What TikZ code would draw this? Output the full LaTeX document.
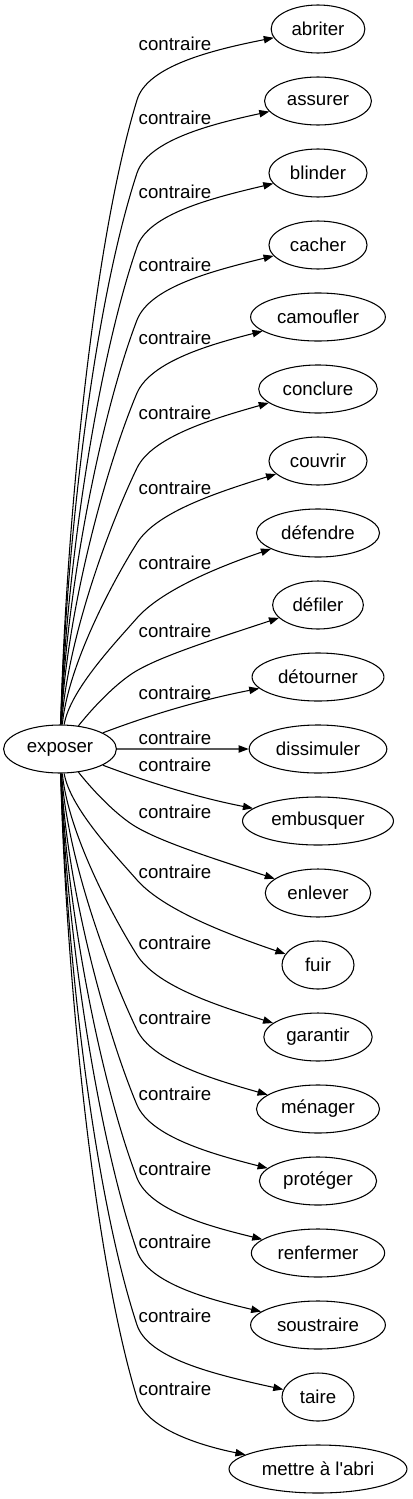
\documentclass[tikz,border=0pt]{standalone}
\usepackage{fontspec}
\newfontfamily\fuente{Liberation Sans}
\usetikzlibrary{arrows.meta,positioning,shapes.geometric}

\begin{document}
\begin{tikzpicture}[
  x=0.75pt, y=-0.75pt,
  every node/.style={font=\fuente\fontsize{14pt}{16pt}\selectfont},
  palabra/.style={
    ellipse, draw=black, line width=0.8pt,
    inner xsep=5pt, minimum width=54pt, minimum height=36pt},
  etiq/.style={inner sep=0pt},
  ->, >={Triangle[length=7.5pt,width=5.5pt]}, line width=0.8pt,
  node distance=17.2pt
]
  \useasboundingbox (0,0) rectangle (413,1499);

  %% ── Nodos ─────────────────────────────────────────────────
  \node[palabra] (exposer) at (60,749) {exposer};

  \node[palabra] (abriter) at (318,29) {abriter};
  \node[palabra, below=of abriter] (assurer) {assurer};
  \node[palabra, below=of assurer] (blinder) {blinder};
  \node[palabra, below=of blinder] (cacher) {cacher};
  \node[palabra, below=of cacher] (camoufler) {camoufler};
  \node[palabra, below=of camoufler] (conclure) {conclure};
  \node[palabra, below=of conclure] (couvrir) {couvrir};
  \node[palabra, below=of couvrir] (defendre) {défendre};
  \node[palabra, below=of defendre] (defiler) {défiler};
  \node[palabra, below=of defiler] (detourner) {détourner};
  \node[palabra, below=of detourner] (dissimuler) {dissimuler};
  \node[palabra, below=of dissimuler] (embusquer) {embusquer};
  \node[palabra, below=of embusquer] (enlever) {enlever};
  \node[palabra, below=of enlever] (fuir) {fuir};
  \node[palabra, below=of fuir] (garantir) {garantir};
  \node[palabra, below=of garantir] (menager) {ménager};
  \node[palabra, below=of menager] (proteger) {protéger};
  \node[palabra, below=of proteger] (renfermer) {renfermer};
  \node[palabra, below=of renfermer] (soustraire) {soustraire};
  \node[palabra, below=of soustraire] (taire) {taire};
  \node[palabra, below=of taire] (abri) {mettre à l'abri};

  %% ── Aristas hacia arriba ──────────────────────────────────
  \draw (exposer) .. controls (66,525) and (93,244) .. (137,100)
    .. controls (147,66) and (212,50) .. (abriter);
  \draw (exposer) .. controls (66,543) and (94,304) .. (137,173)
    .. controls (148,140) and (212,124) .. (assurer);
  \draw (exposer) .. controls (66,567) and (98,360) .. (137,247)
    .. controls (148,214) and (212,198) .. (blinder);
  \draw (exposer) .. controls (66,591) and (101,414) .. (137,320)
    .. controls (150,287) and (212,271) .. (cacher);
  \draw (exposer) .. controls (66,615) and (105,469) .. (137,393)
    .. controls (151,361) and (212,344) .. (camoufler);
  \draw (exposer) .. controls (67,640) and (109,526) .. (137,468)
    .. controls (152,437) and (212,419) .. (conclure);
  \draw (exposer) .. controls (68,665) and (113,581) .. (137,543)
    .. controls (156,513) and (212,494) .. (couvrir);
  \draw (exposer) .. controls (70,690) and (116,642) .. (137,618)
    .. controls (160,592) and (212,569) .. (defendre);
  \draw (exposer) .. controls (95,705) and (116,684) .. (133,673)
    .. controls (158,657) and (212,640) .. (defiler);
  \draw (exposer) .. controls (150,715) and (200,700) .. (detourner);

  %% ── Arista recta ──────────────────────────────────────────
  \draw (exposer) -- (dissimuler);

  %% ── Aristas hacia abajo ───────────────────────────────────
  \draw (exposer) .. controls (150,783) and (200,798) .. (embusquer);
  \draw (exposer) .. controls (95,793) and (116,814) .. (133,825)
    .. controls (158,841) and (212,858) .. (enlever);
  \draw (exposer) .. controls (70,808) and (116,856) .. (137,880)
    .. controls (160,906) and (212,929) .. (fuir);
  \draw (exposer) .. controls (68,833) and (113,917) .. (137,955)
    .. controls (156,985) and (212,1004) .. (garantir);
  \draw (exposer) .. controls (67,858) and (109,972) .. (137,1030)
    .. controls (152,1061) and (212,1079) .. (menager);
  \draw (exposer) .. controls (66,883) and (105,1029) .. (137,1105)
    .. controls (151,1137) and (212,1154) .. (proteger);
  \draw (exposer) .. controls (66,907) and (101,1084) .. (137,1178)
    .. controls (150,1211) and (212,1227) .. (renfermer);
  \draw (exposer) .. controls (66,931) and (98,1138) .. (137,1251)
    .. controls (148,1284) and (212,1300) .. (soustraire);
  \draw (exposer) .. controls (66,955) and (94,1194) .. (137,1325)
    .. controls (148,1358) and (212,1374) .. (taire);
  \draw (exposer) .. controls (66,973) and (93,1254) .. (137,1398)
    .. controls (147,1432) and (212,1448) .. (abri);

  %% ── Etiquetas ─────────────────────────────────────────────
  \node[etiq] (l1) at (175,44) {contraire};
  \node[etiq] (l2) at (175,118) {contraire};
  \node[etiq] (l3) at (175,192) {contraire};
  \node[etiq] (l4) at (175,265) {contraire};
  \node[etiq] (l5) at (175,338) {contraire};
  \node[etiq] (l6) at (175,413) {contraire};
  \node[etiq] (l7) at (175,488) {contraire};
  \node[etiq] (l8) at (175,563) {contraire};
  \node[etiq] (l9) at (175,631) {contraire};
  \node[etiq] (l10) at (175,693) {contraire};
  \node[etiq] (l11) at (175,738) {contraire};
  \node[etiq] (l12) at (175,765) {contraire};
  \node[etiq] (l13) at (175,812) {contraire};
  \node[etiq] (l14) at (175,872) {contraire};
  \node[etiq] (l15) at (175,943) {contraire};
  \node[etiq] (l16) at (175,1018) {contraire};
  \node[etiq] (l17) at (175,1094) {contraire};
  \node[etiq] (l18) at (175,1169) {contraire};
  \node[etiq] (l19) at (175,1242) {contraire};
  \node[etiq] (l20) at (175,1316) {contraire};
  \node[etiq] (l21) at (175,1389) {contraire};

\end{tikzpicture}
\end{document}
